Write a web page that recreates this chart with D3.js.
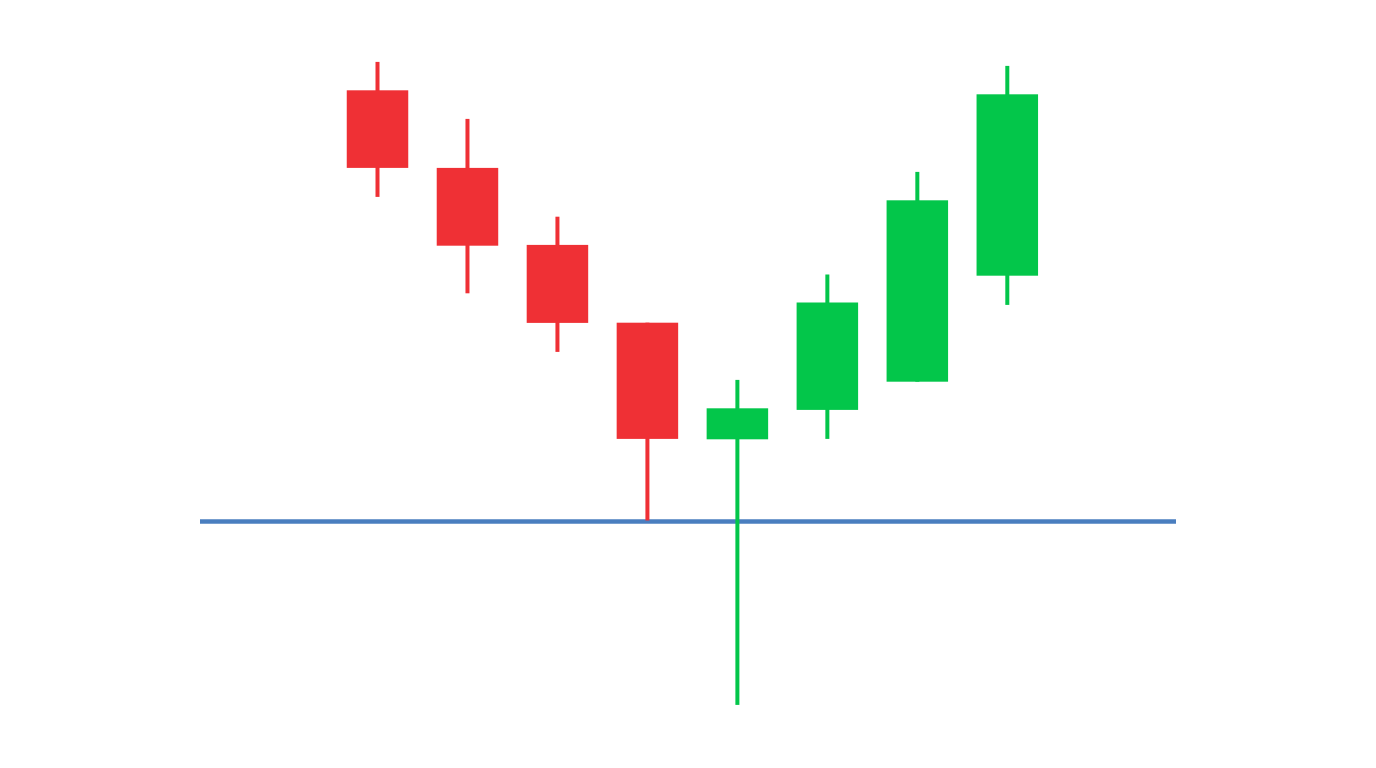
<!DOCTYPE html>
<html lang="en">
<head>
<meta charset="UTF-8">
<title>Candlestick support</title>
<script src="https://d3js.org/d3.v7.min.js"></script>
<style>
  html, body { margin: 0; padding: 0; background: #ffffff; }
</style>
</head>
<body>
<div id="chart"></div>
<script>
// candle data (price units)
var opens  = [31.56, 27.68, 23.83, 19.94, 14.11, 15.58, 16.99, 22.29];
var closes = [27.68, 23.79, 19.93, 14.13, 15.66, 20.95, 26.06, 31.36];
var highs  = [32.98, 30.13, 25.24, 19.94, 17.08, 22.35, 27.48, 32.78];
var lows   = [26.23, 21.41, 18.48, 10.05,  0.83, 14.13, 16.99, 20.83];
var support = 10;

var width = 1376, height = 768;

var svg = d3.select("#chart")
  .append("svg")
  .attr("width", width)
  .attr("height", height);

// x: candle index -> centre
var x = d3.scaleLinear()
  .domain([0, opens.length - 1])
  .range([377.5, 1007.3]);

// y: price -> pixel
var y = d3.scaleLinear()
  .domain([0, 35])
  .range([721.5, 21.5]);

var bodyW = 61.5, wickW = 4;
var red = "#EF3035", green = "#03C64A";

var candles = opens.map(function(o, i) {
  return { i: i, open: o, close: closes[i], high: highs[i], low: lows[i] };
});

// support line (drawn first so the green wick sits on top)
svg.append("line")
  .attr("x1", 200)
  .attr("x2", 1176)
  .attr("y1", y(support))
  .attr("y2", y(support))
  .attr("stroke", "#4A7EBF")
  .attr("stroke-width", 4.5);

// wicks
svg.selectAll(".wick")
  .data(candles)
  .enter().append("rect")
  .attr("class", "wick")
  .attr("x", function(d) { return x(d.i) - wickW / 2; })
  .attr("y", function(d) { return y(d.high); })
  .attr("width", wickW)
  .attr("height", function(d) { return y(d.low) - y(d.high); })
  .attr("fill", function(d) { return d.close >= d.open ? green : red; });

// bodies
svg.selectAll(".body")
  .data(candles)
  .enter().append("rect")
  .attr("class", "body")
  .attr("x", function(d) { return x(d.i) - bodyW / 2; })
  .attr("y", function(d) { return y(Math.max(d.open, d.close)); })
  .attr("width", bodyW)
  .attr("height", function(d) { return Math.abs(y(d.open) - y(d.close)); })
  .attr("fill", function(d) { return d.close >= d.open ? green : red; });
</script>
</body>
</html>
